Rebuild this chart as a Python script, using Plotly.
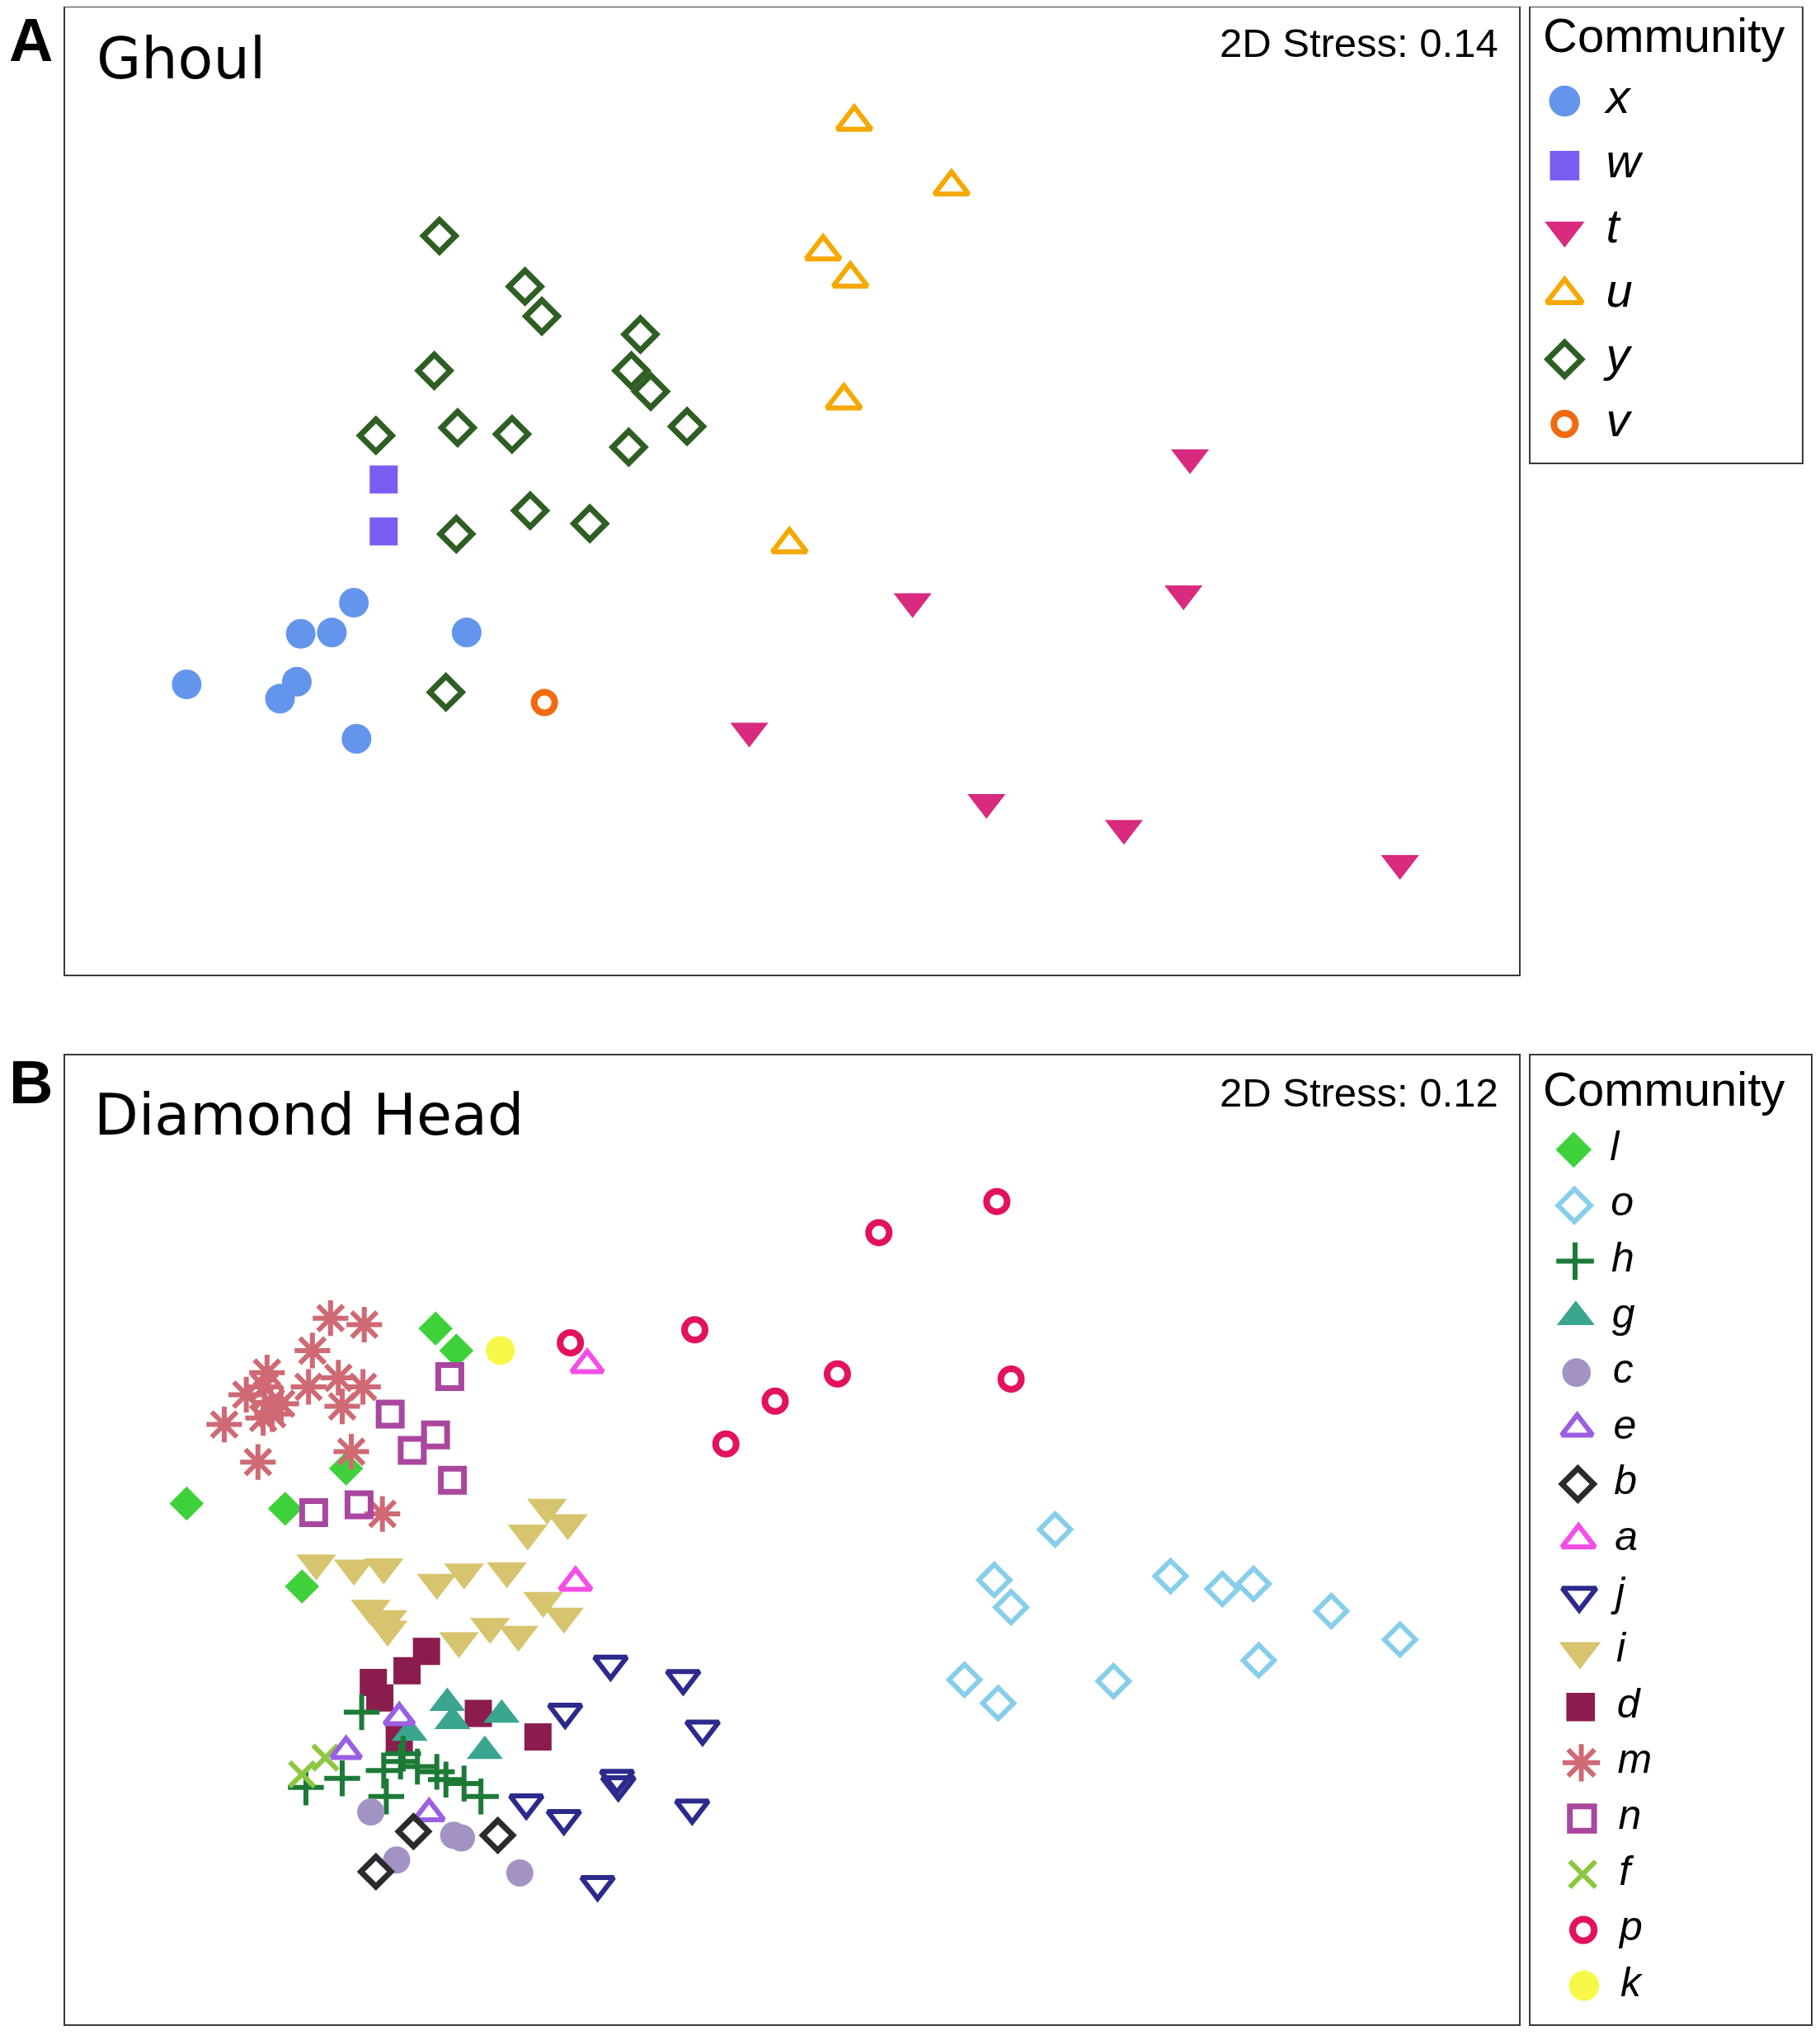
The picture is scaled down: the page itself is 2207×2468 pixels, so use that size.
import plotly.graph_objects as go

# NMDS scores, in drawing units of a
# 1404 x 1570 page (y grows downwards).

# ---- A: Ghoul ----
ghoul_communities = ["x", "w", "t", "u", "y", "v"]

ghoul_x_d1 = [144, 216, 229, 232, 256, 273, 275, 360]
ghoul_x_d2 = [528, 539, 526, 489, 488, 465, 570, 488]
ghoul_w_d1 = [296, 296]
ghoul_w_d2 = [370, 410]
ghoul_t_d1 = [918, 913, 704, 578, 761, 867, 1080]
ghoul_t_d2 = [353, 458, 464, 564, 619, 639, 666]
ghoul_u_d1 = [659, 734, 635, 656, 651, 609]
ghoul_u_d2 = [94, 144, 194, 215, 309, 420]
ghoul_y_d1 = [339, 405, 418, 494, 335, 487, 502, 290, 353, 395, 530, 485, 409, 455, 352, 344]
ghoul_y_d2 = [182, 221, 244, 258, 286, 286, 302, 336, 330, 335, 329, 345, 394, 404, 412, 534]
ghoul_v_d1 = [420]
ghoul_v_d2 = [542]

# ---- B: Diamond Head ----
dh_communities = ["l", "o", "h", "g", "c", "e", "b", "a", "j", "i", "d", "m", "n", "f", "p", "k"]

dh_l_d1 = [336, 352, 267, 144, 220, 233]
dh_l_d2 = [1025, 1042, 1133, 1160, 1164, 1224]
dh_o_d1 = [814, 767, 780, 903, 943, 967, 1027, 1080, 971, 744, 770, 859]
dh_o_d2 = [1180, 1219, 1240, 1216, 1226, 1222, 1243, 1265, 1281, 1296, 1314, 1297]
dh_h_d1 = [279, 236, 264, 296, 298, 309, 322, 337, 344, 358, 371, 311]
dh_h_d2 = [1321, 1379, 1372, 1366, 1386, 1359, 1363, 1367, 1373, 1376, 1386, 1353]
dh_g_d1 = [345, 349, 316, 387, 374]
dh_g_d2 = [1314, 1328, 1337, 1323, 1351]
dh_c_d1 = [286, 306, 350, 356, 401]
dh_c_d2 = [1398, 1435, 1416, 1418, 1445]
dh_e_d1 = [308, 267, 331]
dh_e_d2 = [1325, 1351, 1399]
dh_b_d1 = [319, 384, 290]
dh_b_d2 = [1413, 1416, 1444]
dh_a_d1 = [453, 444]
dh_a_d2 = [1053, 1221]
dh_j_d1 = [471, 527, 542, 436, 476, 477, 534, 406, 435, 461]
dh_j_d2 = [1284, 1295, 1334, 1321, 1372, 1377, 1395, 1391, 1403, 1454]
dh_i_d1 = [422, 438, 407, 244, 273, 296, 337, 358, 391, 286, 299, 299, 419, 435, 378, 400, 354]
dh_i_d2 = [1163, 1175, 1183, 1206, 1210, 1209, 1221, 1213, 1212, 1241, 1249, 1257, 1235, 1247, 1255, 1261, 1266]
dh_d_d1 = [329, 314, 288, 293, 369, 415, 308]
dh_d_d2 = [1274, 1289, 1298, 1310, 1322, 1340, 1342]
dh_m_d1 = [255, 281, 241, 206, 190, 238, 261, 280, 209, 217, 203, 264, 173, 199, 271, 295, 204, 210]
dh_m_d2 = [1017, 1022, 1042, 1059, 1076, 1070, 1063, 1070, 1082, 1083, 1094, 1085, 1099, 1128, 1120, 1168, 1070, 1091]
dh_n_d1 = [347, 301, 336, 318, 349, 242, 277]
dh_n_d2 = [1062, 1091, 1107, 1119, 1142, 1167, 1161]
dh_f_d1 = [233, 251]
dh_f_d2 = [1369, 1356]
dh_p_d1 = [769, 678, 536, 440, 780, 646, 598, 560]
dh_p_d2 = [927, 951, 1026, 1036, 1064, 1060, 1081, 1114]
dh_k_d1 = [386]
dh_k_d2 = [1042]

ghoul_stress = "2D Stress: 0.14"
dh_stress = "2D Stress: 0.12"

ghoul_pts = {
    "x": (ghoul_x_d1, ghoul_x_d2), "w": (ghoul_w_d1, ghoul_w_d2),
    "t": (ghoul_t_d1, ghoul_t_d2), "u": (ghoul_u_d1, ghoul_u_d2),
    "y": (ghoul_y_d1, ghoul_y_d2), "v": (ghoul_v_d1, ghoul_v_d2),
}
dh_pts = {
    "l": (dh_l_d1, dh_l_d2), "o": (dh_o_d1, dh_o_d2), "h": (dh_h_d1, dh_h_d2),
    "g": (dh_g_d1, dh_g_d2), "c": (dh_c_d1, dh_c_d2), "e": (dh_e_d1, dh_e_d2),
    "b": (dh_b_d1, dh_b_d2), "a": (dh_a_d1, dh_a_d2), "j": (dh_j_d1, dh_j_d2),
    "i": (dh_i_d1, dh_i_d2), "d": (dh_d_d1, dh_d_d2), "m": (dh_m_d1, dh_m_d2),
    "n": (dh_n_d1, dh_n_d2), "f": (dh_f_d1, dh_f_d2), "p": (dh_p_d1, dh_p_d2),
    "k": (dh_k_d1, dh_k_d2),
}

# symbol, colour, size, line width
style = {
    "x": ("circle", "#6495ed", 36, 0),
    "w": ("square", "#7b5cf2", 34, 0),
    "t": ("triangle-down", "#d82a7e", 40, 0),
    "u": ("triangle-up-open", "#f5a800", 36, 6),
    "y": ("diamond-open", "#2f5e24", 30, 7),
    "v": ("circle-open", "#f26a10", 25, 8),
    "l": ("diamond", "#3fd13c", 32, 0),
    "o": ("diamond-open", "#87ceeb", 29, 6),
    "h": ("cross-thin", "#1d7a36", 31, 6),
    "g": ("triangle-up", "#3aa68f", 38, 0),
    "c": ("circle", "#a393c4", 33, 0),
    "e": ("triangle-up-open", "#9a5fe3", 31, 6),
    "b": ("diamond-open", "#2b2b2b", 28, 7),
    "a": ("triangle-up-open", "#f54ee6", 33, 6),
    "j": ("triangle-down-open", "#2c2a8c", 34, 6),
    "i": ("triangle-down", "#d7c46f", 42, 0),
    "d": ("square", "#8a1d4e", 33, 0),
    "m": ("asterisk", "#cf6a75", 36, 6),
    "n": ("square-open", "#a9479f", 28, 7),
    "f": ("x-thin", "#8dc63f", 30, 6),
    "p": ("circle-open", "#e3125c", 25, 8),
    "k": ("circle", "#f7f74a", 35, 0),
}

W, H = 2207, 2468
RW = 1404            # drawing units of the data above span the page width
S = W / RW           # page pixels per drawing unit
OFF = 8              # the page body margin shifts the figure by 8 px


def fx(px):
    return min(1, max(0, (px * S - OFF) / W))


def fy(py):
    return min(1, max(0, 1 - (py * S - OFF) / H))


def marker(c, scale=1.0):
    sym, col, size, lw = style[c]
    return dict(symbol=sym, color=col, size=size * scale,
                line=dict(color=col, width=lw))


fig = go.Figure()

# panel A points
for c in ghoul_communities:
    d1, d2 = ghoul_pts[c]
    fig.add_trace(go.Scatter(x=d1, y=d2, mode="markers", marker=marker(c),
                             xaxis="x", yaxis="y", showlegend=False))

# panel B points (draw order roughly as in the original)
dh_order = ["i", "d", "l", "m", "n", "k", "p", "a", "o", "g", "h", "f", "e", "c", "b", "j"]
for c in dh_order:
    d1, d2 = dh_pts[c]
    fig.add_trace(go.Scatter(x=d1, y=d2, mode="markers", marker=marker(c),
                             xaxis="x2", yaxis="y2", showlegend=False))

# hand-made legends so that the keys keep the plot's marker size
legends = [
    # communities, axis, box(l, t, r, b), first row y, row step,
    # marker x (first, last row), text x (first, last row), font, title y
    (ghoul_communities, "3", (1181, 6, 1390, 357), 78, 49.8, (1207, 1207), (1239, 1239), 58, 27),
    (dh_communities, "4", (1181, 814, 1397, 1562), 887, 43.0, (1214, 1222), (1242, 1250), 50, 840),
]
annotations = []
layout_axes = {}
for comms, ax, (bl, bt, br, bb), first, step, (mx0, mx1), (tx0, tx1), fsize, title_y in legends:
    xa, ya = "x" + ax, "y" + ax
    n = len(comms)
    for i, c in enumerate(comms):
        mx = mx0 + (mx1 - mx0) * i / (n - 1)
        fig.add_trace(go.Scatter(x=[mx], y=[i], mode="markers", marker=marker(c, 1.05),
                                 xaxis=xa, yaxis=ya, showlegend=False))
    fig.add_trace(go.Scatter(x=[tx0 + (tx1 - tx0) * i / (n - 1) for i in range(n)],
                             y=list(range(n)),
                             mode="text", text=comms, textposition="middle right",
                             textfont=dict(family="Liberation Sans, Arial", size=fsize,
                                           color="black", style="italic"),
                             xaxis=xa, yaxis=ya, showlegend=False))
    annotations.append(dict(text="Community", x=1189, y=(title_y - first) / step,
                            xref=xa, yref=ya, xanchor="left", yanchor="middle",
                            showarrow=False,
                            font=dict(family="Liberation Sans, Arial", size=58, color="black")))
    layout_axes["xaxis" + ax] = dict(domain=[fx(bl), fx(br)], range=[bl, br], anchor=ya)
    layout_axes["yaxis" + ax] = dict(domain=[fy(bb), fy(bt)],
                                     range=[(bb - first) / step, (bt - first) / step],
                                     anchor=xa)

box = dict(showline=True, mirror=True, linecolor="#3a3a3a", linewidth=2,
           showticklabels=False, showgrid=False, zeroline=False, ticks="",
           fixedrange=True)

layout_axes["xaxis"] = dict(domain=[fx(50), fx(1172)], range=[50, 1172], anchor="y")
layout_axes["yaxis"] = dict(domain=[fy(752), fy(6)], range=[752, 6], anchor="x")
layout_axes["xaxis2"] = dict(domain=[fx(50), fx(1172)], range=[50, 1172], anchor="y2")
layout_axes["yaxis2"] = dict(domain=[fy(1562), fy(814)], range=[1562, 814], anchor="x2")
for k in layout_axes:
    layout_axes[k].update(box)

title_font = dict(family="DejaVu Sans", size=70, color="black")
stress_font = dict(family="Liberation Sans, Arial", size=49, color="black")
letter_font = dict(family="Liberation Sans, Arial", size=74, color="black")
annotations += [
    dict(text="Ghoul", x=fx(73), y=fy(45), font=title_font, xanchor="left"),
    dict(text="Diamond Head", x=fx(71), y=fy(860), font=title_font, xanchor="left"),
    dict(text=ghoul_stress, x=fx(1157), y=fy(33), font=stress_font, xanchor="right"),
    dict(text=dh_stress, x=fx(1157), y=fy(843), font=stress_font, xanchor="right"),
    dict(text="<b>A</b>", x=fx(6), y=fy(31), font=letter_font, xanchor="left"),
    dict(text="<b>B</b>", x=fx(6), y=fy(835), font=letter_font, xanchor="left"),
]
for a in annotations[2:]:
    a.update(xref="paper", yref="paper", yanchor="middle", showarrow=False)

fig.update_layout(
    width=W, height=H,
    margin=dict(l=0, r=0, t=0, b=0),
    paper_bgcolor="white", plot_bgcolor="white",
    annotations=annotations,
    **layout_axes,
)

fig.write_html("out.html")
